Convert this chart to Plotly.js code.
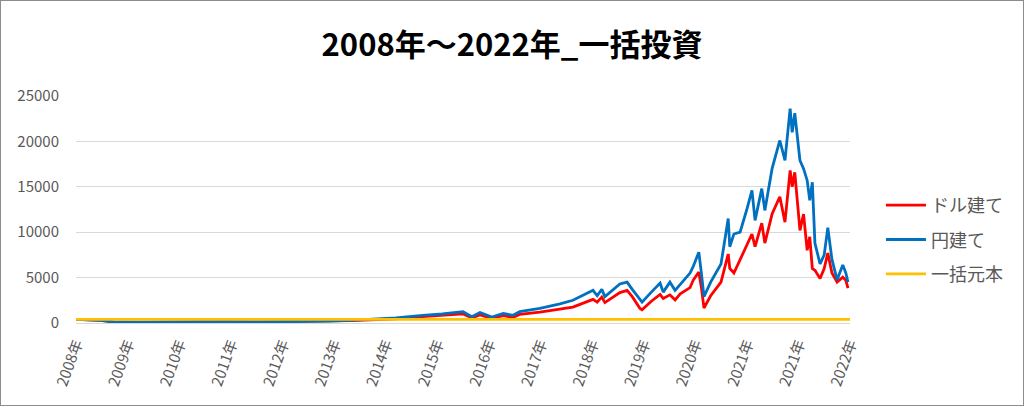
<!DOCTYPE html>
<html>
<head>
<meta charset="utf-8">
<script src="https://cdn.plot.ly/plotly-3.0.1.min.js"></script>
<style>
html,body{margin:0;padding:0;background:#fff;}
#wrap{position:relative;width:1024px;height:406px;}
#chart{width:1024px;height:406px;}
#frame{position:absolute;left:0;top:0;width:1024px;height:406px;box-sizing:border-box;border:1px solid #8c8c8c;pointer-events:none;}
</style>
</head>
<body>
<div id="wrap"><div id="chart"></div><div id="frame"></div></div>
<script>
// Tick labels of the category axis (one label every ~250 trading days)
const tickLabels = ["2008年","2009年","2010年","2011年","2012年","2013年","2014年","2015年",
  "2016年","2017年","2018年","2019年","2020年","2021年","2021年","2022年"];

// Time position of each sampled point, in label intervals
const period = [0.00,0.25,0.47,0.72,0.93,1.20,1.50,1.92,2.40,2.93,3.40,3.91,4.40,4.90,5.31,5.70,
  6.20,6.72,7.10,7.50,7.67,7.83,8.06,8.28,8.47,8.60,8.99,9.38,9.63,10.02,10.10,10.19,10.25,
  10.54,10.68,10.78,10.93,10.97,11.15,11.32,11.38,11.51,11.61,11.71,11.90,11.96,12.07,12.12,
  12.17,12.30,12.50,12.64,12.67,12.75,12.87,13.00,13.10,13.16,13.29,13.35,13.49,13.64,13.74,
  13.84,13.88,13.93,14.03,14.10,14.17,14.22,14.27,14.32,14.42,14.50,14.57,14.65,14.75,14.86,
  14.92,14.96];

// 円建て (yen based)
const yenValues = [400,330,280,120,80,70,90,120,140,150,110,130,150,200,280,420,
  560,850,1000,1250,700,1150,650,1050,850,1250,1600,2100,2500,3600,3000,3700,2900,
  4300,4500,3700,2500,2300,3400,4400,3400,4500,3600,4300,5500,6200,7800,5500,
  2900,4500,6500,11500,8400,9800,10000,12500,14600,11300,14800,12400,17000,20100,17900,
  23600,21000,23100,17900,17000,15700,13500,15500,8800,6500,7500,10500,7000,4750,6400,
  5500,4500];

// ドル建て (dollar based)
const dollarValues = [400,340,290,130,90,80,100,140,160,170,130,160,180,230,260,350,
  470,700,820,1000,580,900,520,800,620,950,1200,1500,1750,2600,2300,2850,2250,
  3350,3600,2900,1600,1450,2400,3150,2700,3100,2550,3200,3900,4700,5600,3900,
  1650,3000,4500,7600,6000,5500,7000,8500,9800,8400,11000,8800,12000,13900,11100,
  16800,15000,16600,10200,12000,8000,9500,6000,5800,4900,6000,7700,5500,4500,5050,
  4700,3850];

// 一括元本 (lump-sum principal)
const principal = 400;

const labelFont = {family: '"Noto Sans CJK JP", "Noto Sans", sans-serif', size: 15, color: '#595959'};

const traces = [
  {x: period, y: dollarValues, name: 'ドル建て', type: 'scatter', mode: 'lines',
   line: {color: '#FF0000', width: 2.8}, legendgroup: 'a'},
  {x: period, y: yenValues, name: '円建て', type: 'scatter', mode: 'lines',
   line: {color: '#0070C0', width: 2.8}, legendgroup: 'b'},
  {x: [period[0], tickLabels.length - 1], y: [principal, principal], name: '一括元本', type: 'scatter', mode: 'lines',
   line: {color: '#FFC000', width: 2.8}, legendgroup: 'c'}
];

const layout = {
  width: 1024, height: 406,
  margin: {l: 76, r: 174, t: 96, b: 83},
  paper_bgcolor: '#ffffff', plot_bgcolor: '#ffffff',
  title: {text: '2008年～2022年_一括投資', x: 0.5, xref: 'container', xanchor: 'center',
    y: 0.89, yref: 'container', yanchor: 'middle',
    font: {family: '"Noto Sans CJK JP", sans-serif', size: 31, color: '#000000', weight: 'bold'}},
  showlegend: true,
  legend: {x: 1.04, xanchor: 'left', xref: 'paper', y: 0.366, yanchor: 'middle',
    font: {family: '"Noto Sans CJK JP", sans-serif', size: 18, color: '#595959'},
    traceorder: 'grouped', tracegroupgap: 8, itemwidth: 40,
    bgcolor: 'rgba(0,0,0,0)'},
  xaxis: {
    range: [0, tickLabels.length - 1], tickmode: 'array',
    tickvals: tickLabels.map((_, i) => i), ticktext: tickLabels,
    tickangle: -70, tickfont: labelFont, showgrid: false, zeroline: false,
    showline: false, ticks: '', ticklabelstandoff: 8
  },
  yaxis: {
    range: [0, 25000], tickvals: [0,5000,10000,15000,20000,25000], tickformat: 'd',
    tickfont: labelFont, gridcolor: '#D9D9D9', gridwidth: 1,
    zeroline: true, zerolinecolor: '#D9D9D9', zerolinewidth: 1,
    showline: false, ticks: '', ticklabelstandoff: 16
  }
};

Plotly.newPlot('chart', traces, layout, {staticPlot: true});
</script>
</body>
</html>
